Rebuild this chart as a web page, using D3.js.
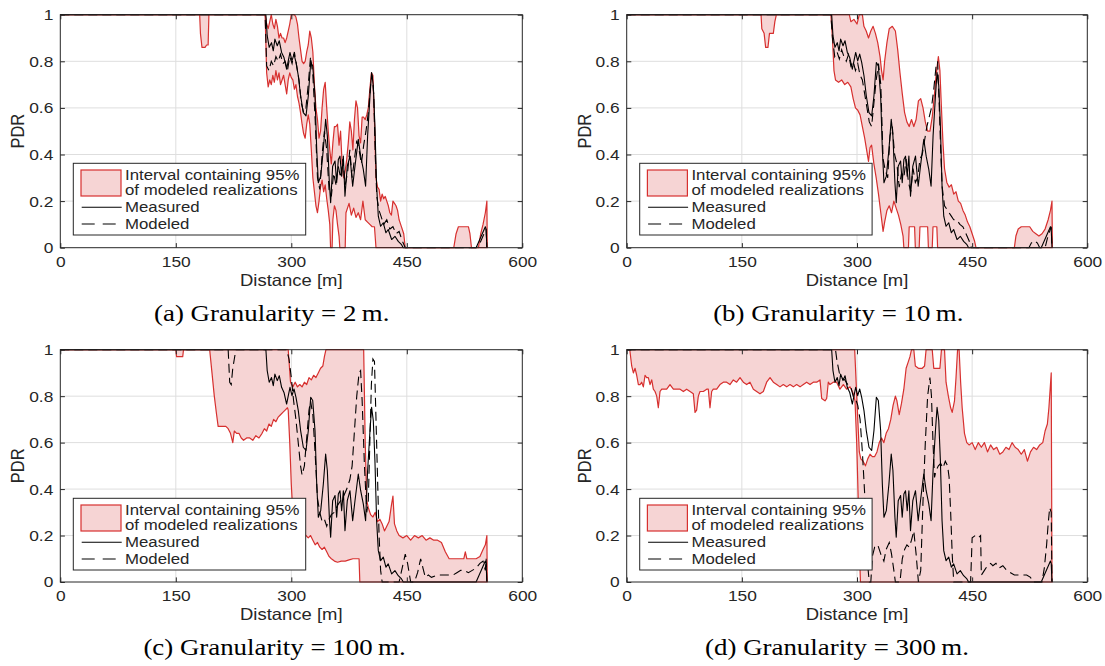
<!DOCTYPE html>
<html><head><meta charset="utf-8">
<script src="https://cdn.jsdelivr.net/npm/d3@7"></script>
<style>body{margin:0;background:#fff}svg{display:block}</style>
</head><body>
<svg id="chart" width="1105" height="666"></svg>
<script>
// ---------- data ----------
const xTicks = [0, 150, 300, 450, 600];
const yTicks = [0, 0.2, 0.4, 0.6, 0.8, 1];
const yTickLabels = ["0", "0.2", "0.4", "0.6", "0.8", "1"];
const xAxisTitle = "Distance [m]";
const yAxisTitle = "PDR";
const legendLabels = ["Interval containing 95%", "of modeled realizations", "Measured", "Modeled"];
const captions = ["(a) Granularity = 2\u2009m.", "(b) Granularity = 10\u2009m.", "(c) Granularity = 100\u2009m.", "(d) Granularity = 300\u2009m."];

const measured = [[0,1],[266,1],[267,1],[268.7,0.91],[271.3,0.86],[274.3,0.88],[276.6,0.845],[278.7,0.895],[281.8,0.867],[284.4,0.888],[287.4,0.838],[290.5,0.816],[293.9,0.766],[296.5,0.809],[298.3,0.838],[300.9,0.802],[303.5,0.831],[306.1,0.795],[309.1,0.738],[312.1,0.652],[315.6,0.58],[319.1,0.566],[322.1,0.652],[325.2,0.795],[327.8,0.781],[330.8,0.652],[333,0.422],[335.1,0.279],[338.2,0.307],[341.6,0.422],[344.6,0.551],[346.8,0.48],[349.4,0.279],[351.1,0.193],[353.7,0.35],[356.8,0.372],[358.9,0.279],[361.1,0.379],[363.2,0.393],[365.4,0.307],[367.6,0.393],[369.7,0.221],[372.7,0.35],[376.2,0.393],[379.7,0.264],[382.7,0.35],[387,0.465],[390.1,0.393],[393.5,0.336],[396.5,0.264],[399.1,0.479],[402.2,0.652],[404.3,0.752],[406.5,0.695],[408.6,0.523],[410.8,0.264],[413,0.135],[416,0.092],[419.5,0.107],[422.9,0.064],[425.9,0.078],[430.3,0.035],[434.6,0.049],[438.9,0.027],[443.2,0.013],[445.4,0],[540,0],[544,0.03],[548,0.06],[552,0.09],[553,0.08],[554,0]];

// (a) granularity 2 m
const modeledA = [[0,1],[266,1],[268,0.78],[271,0.76],[274,0.8],[277,0.78],[280,0.82],[283,0.8],[286,0.83],[289,0.79],[292,0.8],[295,0.76],[298,0.82],[301,0.79],[304,0.84],[307,0.78],[310,0.72],[313,0.62],[316,0.58],[319,0.6],[322,0.7],[325,0.82],[328,0.74],[331,0.55],[334,0.3],[337,0.25],[340,0.4],[343,0.5],[346,0.42],[349,0.25],[352,0.22],[355,0.32],[358,0.27],[361,0.35],[364,0.3],[367,0.38],[370,0.27],[373,0.32],[376,0.42],[379,0.3],[382,0.38],[385,0.46],[388,0.42],[391,0.36],[394,0.44],[397,0.5],[400,0.58],[403,0.7],[405,0.74],[407,0.66],[409,0.4],[411,0.22],[414,0.16],[417,0.13],[420,0.1],[424,0.12],[428,0.08],[432,0.09],[436,0.06],[440,0.07],[444,0.03],[448,0],[540,0],[545,0.02],[549,0.05],[553,0.08],[554,0]];
const lowerA = [[0,1],[181,1],[182,0.92],[184,0.86],[186,0.86],[188,0.86],[190,0.87],[192,0.87],[193,1],[266,1],[268,0.75],[270,0.69],[272,0.72],[274,0.7],[276,0.74],[278,0.71],[280,0.76],[282,0.72],[284,0.75],[286,0.7],[288,0.72],[290,0.74],[292,0.7],[294,0.66],[296,0.72],[298,0.75],[300,0.73],[302,0.72],[304,0.68],[306,0.7],[308,0.65],[310,0.62],[312,0.58],[314,0.53],[316,0.49],[318,0.47],[320,0.53],[322,0.57],[324,0.53],[326,0.42],[328,0.3],[330,0.24],[332,0.18],[334,0.15],[336,0.2],[338,0.26],[340,0.29],[342,0.24],[344,0.27],[346,0.21],[348,0.16],[350,0.1],[351,0],[353,0],[354,0.12],[356,0.18],[358,0.16],[360,0.1],[362,0.05],[363,0],[370,0],[371,0.15],[375,0.19],[378,0.14],[381,0.17],[384,0.13],[387,0.15],[390,0.12],[393,0.2],[396,0.12],[399,0.11],[402,0.1],[405,0.09],[408,0.09],[410,0],[555,0]];
const upperA = [[0,1],[266,1],[268,0.96],[270,0.94],[272,0.97],[274,1],[276,0.96],[278,0.94],[280,0.98],[282,0.95],[284,0.9],[286,0.92],[288,0.9],[290,0.9],[292,0.88],[294,0.9],[296,0.93],[298,0.96],[300,1],[304,1],[306,0.99],[308,0.96],[310,0.9],[312,0.85],[314,0.8],[316,0.79],[318,0.8],[320,0.84],[322,0.87],[324,0.93],[326,0.9],[328,0.84],[330,0.7],[332,0.6],[334,0.55],[336,0.47],[338,0.5],[340,0.6],[342,0.68],[344,0.71],[346,0.6],[348,0.5],[350,0.42],[352,0.36],[354,0.45],[356,0.52],[358,0.52],[360,0.53],[362,0.44],[364,0.5],[366,0.36],[368,0.3],[370,0.33],[372,0.38],[374,0.45],[376,0.54],[378,0.5],[380,0.42],[382,0.55],[384,0.63],[386,0.6],[388,0.48],[390,0.45],[392,0.56],[394,0.56],[396,0.55],[398,0.57],[400,0.6],[402,0.68],[404,0.75],[406,0.74],[408,0.55],[410,0.3],[412,0.26],[414,0.25],[416,0.2],[418,0.23],[420,0.21],[422,0.22],[424,0.2],[426,0.18],[428,0.15],[430,0.14],[432,0.2],[434,0.19],[436,0.18],[438,0.16],[440,0.12],[442,0.1],[444,0.08],[446,0.06],[448,0],[511,0],[514,0.06],[517,0.09],[520,0.09],[524,0.09],[530,0.09],[532,0.06],[534,0],[543,0],[546,0.06],[549,0.1],[552,0.15],[554,0.2],[554.5,0]];

// (b) granularity 10 m
const modeledB = [[0,1],[266,1],[268,0.9],[271,0.82],[274,0.84],[277,0.81],[280,0.85],[283,0.82],[286,0.8],[289,0.83],[292,0.78],[295,0.8],[298,0.76],[301,0.79],[304,0.74],[307,0.72],[310,0.66],[313,0.6],[316,0.54],[319,0.52],[322,0.62],[325,0.72],[328,0.79],[331,0.7],[334,0.38],[337,0.33],[340,0.3],[343,0.48],[346,0.52],[349,0.4],[352,0.36],[355,0.26],[358,0.32],[361,0.3],[364,0.38],[367,0.28],[370,0.24],[373,0.34],[376,0.28],[379,0.3],[382,0.38],[385,0.4],[388,0.46],[391,0.52],[394,0.56],[397,0.6],[400,0.68],[403,0.78],[405,0.8],[407,0.62],[409,0.42],[411,0.26],[414,0.18],[418,0.16],[422,0.14],[426,0.12],[430,0.12],[434,0.1],[438,0.09],[442,0.06],[446,0.03],[449,0],[524,0],[527,0.02],[531,0.03],[535,0.02],[538,0],[545,0],[548,0.04],[551,0.07],[553,0.09],[554,0]];
const lowerB = [[0,1],[175,1],[176,0.94],[179,0.92],[181,0.86],[184,0.86],[186,0.92],[191,0.92],[193,0.97],[195,1],[266,1],[268,0.9],[270,0.76],[272,0.72],[276,0.71],[280,0.72],[284,0.7],[288,0.71],[292,0.69],[295,0.64],[298,0.6],[301,0.59],[304,0.57],[307,0.52],[310,0.47],[313,0.41],[315,0.37],[317,0.43],[319,0.44],[322,0.36],[325,0.3],[328,0.23],[331,0.15],[334,0.07],[336,0.11],[339,0.16],[342,0.18],[345,0.15],[348,0.2],[351,0.17],[354,0.14],[357,0.1],[360,0.05],[361,0],[367,0],[368,0.09],[375,0.09],[376,0],[381,0],[382,0.09],[392,0.09],[393,0],[398,0],[399,0.09],[404,0.09],[405,0],[555,0]];
const upperB = [[0,1],[266,1],[290,1],[292,0.97],[296,0.98],[300,0.96],[303,1],[307,1],[309,0.95],[312,0.93],[315,0.9],[318,0.93],[321,0.95],[324,0.92],[327,0.88],[330,0.82],[332,0.76],[334,0.72],[336,0.8],[339,0.88],[342,0.94],[346,0.95],[350,0.93],[353,0.85],[356,0.75],[359,0.66],[362,0.58],[365,0.54],[368,0.52],[371,0.55],[374,0.52],[377,0.55],[380,0.63],[383,0.64],[386,0.6],[389,0.54],[392,0.5],[395,0.5],[398,0.56],[401,0.66],[403,0.74],[406,0.82],[408,0.76],[410,0.6],[412,0.45],[414,0.34],[417,0.28],[420,0.26],[423,0.27],[426,0.23],[429,0.24],[432,0.2],[435,0.19],[438,0.16],[441,0.14],[444,0.11],[447,0.09],[450,0.06],[453,0.03],[455,0],[505,0],[507,0.05],[510,0.08],[514,0.09],[525,0.09],[529,0.07],[533,0.06],[537,0.05],[541,0.06],[545,0.08],[549,0.12],[552,0.16],[554,0.2],[554.5,0]];

// (c) granularity 100 m
const modeledC = [[0,1],[218,1],[220,0.86],[222,0.85],[224,0.92],[226,0.96],[228,1],[294,1],[297,0.96],[300,0.88],[303,0.78],[306,0.7],[309,0.6],[312,0.5],[314,0.46],[317,0.5],[320,0.62],[323,0.74],[325,0.78],[328,0.72],[331,0.55],[334,0.36],[337,0.3],[340,0.26],[343,0.27],[346,0.24],[349,0.27],[352,0.29],[356,0.3],[360,0.33],[364,0.35],[368,0.37],[372,0.4],[376,0.44],[379,0.5],[382,0.65],[385,0.8],[388,0.9],[390,0.91],[392,0.78],[395,0.5],[398,0.3],[400,0.35],[402,0.6],[404,0.85],[406,0.96],[408,0.95],[410,0.7],[412,0.45],[414,0.2],[416,0.05],[418,0],[440,0],[444,0.06],[448,0.12],[451,0.08],[455,0],[460,0],[464,0.04],[468,0.1],[471,0.06],[474,0.02],[478,0.03],[482,0.02],[490,0.03],[500,0.03],[510,0.03],[515,0.04],[520,0.05],[525,0.05],[530,0.04],[535,0.05],[540,0.06],[545,0.08],[549,0.09],[552,0.05],[553,0.1],[554,0]];
const lowerC = [[0,1],[150,1],[151,0.97],[159,0.97],[160,1],[194,1],[197,0.9],[200,0.8],[203,0.72],[205,0.67],[210,0.67],[215,0.67],[218,0.66],[221,0.64],[224,0.6],[226,0.65],[229,0.64],[232,0.64],[235,0.62],[238,0.61],[242,0.62],[246,0.62],[250,0.61],[254,0.63],[258,0.62],[262,0.64],[265,0.66],[268,0.65],[271,0.68],[274,0.67],[277,0.7],[280,0.69],[283,0.71],[286,0.72],[289,0.73],[292,0.74],[295,0.75],[296,0.74],[298,0.6],[300,0.42],[302,0.3],[304,0.26],[307,0.25],[310,0.22],[313,0.23],[316,0.21],[319,0.2],[322,0.19],[325,0.2],[328,0.18],[331,0.16],[334,0.17],[337,0.15],[340,0.14],[343,0.15],[346,0.13],[349,0.11],[352,0.1],[356,0.09],[360,0.085],[365,0.09],[370,0.09],[375,0.095],[380,0.1],[385,0.1],[388,0.1],[389,0],[555,0]];
const upperC = [[0,1],[296,1],[299,0.86],[302,0.84],[305,0.86],[308,0.84],[311,0.85],[314,0.84],[317,0.86],[320,0.85],[323,0.88],[326,0.87],[329,0.89],[332,0.88],[335,0.9],[338,0.92],[341,0.93],[343,0.97],[345,1],[394,1],[396,0.6],[398,0.35],[400,0.32],[403,0.29],[406,0.28],[409,0.3],[412,0.26],[415,0.27],[418,0.25],[421,0.22],[424,0.24],[427,0.26],[430,0.33],[432,0.37],[434,0.25],[437,0.22],[440,0.2],[445,0.19],[450,0.2],[455,0.18],[460,0.2],[465,0.19],[470,0.2],[475,0.18],[480,0.19],[485,0.18],[490,0.18],[495,0.17],[500,0.13],[505,0.1],[510,0.1],[520,0.1],[524,0.1],[526,0.13],[528,0.1],[535,0.1],[540,0.1],[545,0.11],[549,0.14],[552,0.16],[554,0.2],[554.5,0]];

// (d) granularity 300 m
const modeledD = [[0,1],[272,1],[274,0.95],[277,0.9],[280,0.88],[284,0.87],[288,0.85],[292,0.84],[295,0.8],[298,0.79],[301,0.76],[304,0.7],[307,0.56],[310,0.38],[312,0.2],[314,0.07],[316,0],[318,0],[320,0.11],[323,0.15],[327,0.16],[331,0.12],[335,0.09],[338,0.14],[342,0.17],[345,0.12],[348,0.05],[350,0],[356,0],[359,0.1],[362,0.14],[365,0.16],[368,0.15],[371,0.18],[374,0.22],[377,0.12],[380,0],[383,0.05],[386,0.35],[389,0.6],[392,0.8],[395,0.88],[397,0.8],[399,0.6],[401,0.45],[403,0.48],[406,0.5],[409,0.51],[412,0.49],[415,0.52],[418,0.5],[420,0.45],[422,0.3],[424,0.12],[426,0],[448,0],[450,0.19],[454,0.2],[458,0.19],[461,0.2],[462,0.03],[466,0.05],[470,0.07],[474,0.08],[477,0.07],[481,0.08],[485,0.06],[490,0.07],[495,0.05],[500,0.04],[505,0.03],[510,0.03],[516,0.03],[521,0.03],[526,0.02],[529,0],[541,0],[544,0.06],[547,0.16],[549,0.25],[551,0.32],[553,0.3],[554,0]];
const lowerD = [[0,1],[4,1],[6.5,0.93],[8.7,0.9],[10.9,0.92],[13,0.89],[15.2,0.85],[17.4,0.85],[19.5,0.86],[21.7,0.84],[23.9,0.89],[26,0.88],[28.2,0.88],[30.4,0.85],[32.6,0.87],[34.7,0.83],[36.9,0.82],[39.1,0.8],[41.2,0.75],[43.4,0.82],[45.6,0.83],[47.8,0.83],[52.1,0.83],[56.4,0.85],[60.8,0.83],[65.1,0.83],[69.5,0.83],[73.8,0.82],[78.1,0.83],[82.5,0.82],[86.8,0.81],[89,0.73],[91.1,0.74],[93.3,0.8],[95.5,0.82],[99.8,0.82],[104.2,0.83],[106.3,0.83],[108.5,0.75],[110.7,0.82],[112.8,0.83],[117.2,0.83],[121.5,0.85],[125.9,0.86],[130.2,0.86],[134.5,0.85],[138.9,0.87],[143.2,0.86],[147.6,0.88],[151.9,0.86],[156.3,0.85],[160.6,0.86],[165,0.83],[169.3,0.82],[173.6,0.81],[178,0.82],[182.3,0.86],[186.7,0.88],[191,0.86],[195.4,0.85],[199.7,0.84],[204,0.85],[208.4,0.84],[212.7,0.85],[217.1,0.84],[221.4,0.85],[225.8,0.84],[230.1,0.85],[234.4,0.86],[238.8,0.85],[243.1,0.86],[247.5,0.86],[251.8,0.87],[254,0.79],[258.3,0.78],[260.5,0.79],[262.6,0.86],[264.8,0.85],[269.1,0.86],[273.5,0.86],[277.8,0.83],[282.2,0.85],[286.5,0.83],[290.9,0.84],[295.2,0.81],[297.4,0.78],[299.6,0.6],[301.7,0.34],[303.5,0.1],[304.5,0],[555,0]];
const upperD = [[0,1],[297,1],[299,0.85],[301,0.7],[303,0.56],[305,0.53],[308,0.52],[311,0.5],[314,0.53],[317,0.55],[320,0.54],[323,0.54],[326,0.56],[329,0.6],[332,0.62],[335,0.6],[338,0.64],[341,0.66],[344,0.7],[347,0.76],[350,0.8],[352,0.78],[355,0.72],[358,0.77],[361,0.83],[364,0.92],[367,0.95],[369,0.97],[371,1],[374,1],[376,0.93],[380,0.92],[385,0.92],[388,0.93],[390,1],[398,1],[400,0.92],[408,0.92],[410,1],[414,1],[416,0.86],[419,0.8],[422,0.75],[424,0.73],[427,0.78],[429,0.88],[431,1],[433,1],[435,0.86],[437,0.75],[440,0.64],[443,0.6],[446,0.59],[450,0.6],[454,0.57],[458,0.6],[462,0.58],[466,0.6],[470,0.56],[474,0.59],[478,0.57],[482,0.58],[486,0.55],[490,0.56],[494,0.58],[498,0.57],[502,0.6],[506,0.58],[510,0.57],[514,0.55],[518,0.57],[522,0.52],[526,0.56],[530,0.58],[534,0.57],[538,0.59],[542,0.6],[545,0.65],[548,0.68],[550,0.75],[553,0.9],[554,0]];

// ---------- layout ----------
const panels = [
  {x0:60.3, x1:522.3, y0:14.7, y1:247.7, lower:lowerA, upper:upperA, modeled:modeledA, cap:captions[0], capX:271.7, capY:320.7},
  {x0:626.7, x1:1087.3, y0:14.7, y1:247.7, lower:lowerB, upper:upperB, modeled:modeledB, cap:captions[1], capX:838.3, capY:320.7},
  {x0:60.3, x1:522.3, y0:349.7, y1:582, lower:lowerC, upper:upperC, modeled:modeledC, cap:captions[2], capX:274.5, capY:655},
  {x0:626.7, x1:1087.3, y0:349.7, y1:582, lower:lowerD, upper:upperD, modeled:modeledD, cap:captions[3], capX:837, capY:655}
];
const SX = 1.12;
const SANS = '"Liberation Sans", Arial, Helvetica, sans-serif';
const SERIF = '"Liberation Serif", "Times New Roman", serif';
const INK = '#262626';
const RED = '#d7302f';
const PINK = '#f6d4d4';
const svg = d3.select('#chart');

function label(g, x, y, s, size, anchor, rot, family) {
  const t = g.append('text')
    .attr('transform', `translate(${x},${y}) scale(${SX},1)` + (rot ? ` rotate(${rot})` : ''))
    .attr('text-anchor', anchor || 'start')
    .attr('font-family', family || SANS)
    .attr('font-size', size)
    .attr('fill', INK)
    .text(s);
  return t;
}

panels.forEach((p, i) => {
  const g = svg.append('g');
  const x = d3.scaleLinear().domain([0, 600]).range([p.x0, p.x1]);
  const y = d3.scaleLinear().domain([0, 1]).range([p.y1, p.y0]);
  const clipId = 'clip' + i;
  g.append('clipPath').attr('id', clipId).append('rect')
    .attr('x', p.x0).attr('y', p.y0 - 1).attr('width', p.x1 - p.x0).attr('height', p.y1 - p.y0 + 2);

  // grid
  g.append('g').selectAll('line').data(xTicks.slice(1, -1)).join('line')
    .attr('x1', d => x(d)).attr('x2', d => x(d)).attr('y1', p.y0).attr('y2', p.y1)
    .attr('stroke', '#dedede').attr('stroke-width', 1);
  g.append('g').selectAll('line').data(yTicks.slice(1, -1)).join('line')
    .attr('y1', d => y(d)).attr('y2', d => y(d)).attr('x1', p.x0).attr('x2', p.x1)
    .attr('stroke', '#dedede').attr('stroke-width', 1);

  const line = d3.line().x(d => x(d[0])).y(d => y(d[1]));
  const plot = g.append('g').attr('clip-path', `url(#${clipId})`);
  // interval fill
  plot.append('path')
    .attr('d', line(p.upper.concat(p.lower.slice().reverse())) + 'Z')
    .attr('fill', PINK).attr('stroke', 'none');
  [p.lower, p.upper].forEach(s => plot.append('path').attr('d', line(s))
    .attr('fill', 'none').attr('stroke', RED).attr('stroke-width', 1.2).attr('stroke-linejoin', 'round'));
  plot.append('path').attr('d', line(measured))
    .attr('fill', 'none').attr('stroke', '#000').attr('stroke-width', 1.1).attr('stroke-linejoin', 'round');
  plot.append('path').attr('d', line(p.modeled))
    .attr('fill', 'none').attr('stroke', '#000').attr('stroke-width', 1.1).attr('stroke-dasharray', '9,5');

  // axes (ticks inward on all four sides)
  const ax = g.append('g').attr('transform', `translate(0,${p.y1})`)
    .call(d3.axisBottom(x).tickValues(xTicks).tickSizeInner(-4.6).tickSizeOuter(0).tickPadding(8).tickFormat(d3.format('d')));
  const ay = g.append('g').attr('transform', `translate(${p.x0},0)`)
    .call(d3.axisLeft(y).tickValues(yTicks).tickSizeInner(-4.6).tickSizeOuter(0).tickPadding(7).tickFormat((d, k) => yTickLabels[k]));
  const at = g.append('g').attr('transform', `translate(0,${p.y0})`)
    .call(d3.axisTop(x).tickValues(xTicks).tickSizeInner(-4.6).tickSizeOuter(0).tickFormat(''));
  const ar = g.append('g').attr('transform', `translate(${p.x1},0)`)
    .call(d3.axisRight(y).tickValues(yTicks).tickSizeInner(-4.6).tickSizeOuter(0).tickFormat(''));
  [ax, ay, at, ar].forEach(a => {
    a.select('.domain').remove();
    a.selectAll('line').attr('stroke', INK);
    a.selectAll('text').attr('fill', INK).attr('font-family', SANS).attr('font-size', 15.5);
  });
  ax.selectAll('text').attr('transform', `scale(${SX},1)`);
  ay.selectAll('text').each(function () {
    const t = d3.select(this);
    t.attr('transform', `translate(-7,0) scale(${SX},1) translate(7,0)`);
  });
  g.append('rect').attr('x', p.x0).attr('y', p.y0).attr('width', p.x1 - p.x0).attr('height', p.y1 - p.y0)
    .attr('fill', 'none').attr('stroke', INK).attr('stroke-width', 1);

  // axis titles
  label(g, (p.x0 + p.x1) / 2, p.y1 + 38.3, xAxisTitle, 16.5, 'middle');
  label(g, p.x0 - 36, (p.y0 + p.y1) / 2, yAxisTitle, 16.5, 'middle', -90);

  // legend
  const lg = g.append('g');
  const lx = p.x0 + 13, ly = p.y0 + 148.6;
  lg.append('rect').attr('x', lx).attr('y', ly).attr('width', 232.4).attr('height', 71.7)
    .attr('fill', '#fff').attr('stroke', INK).attr('stroke-width', 1);
  lg.append('rect').attr('x', p.x0 + 20.7).attr('y', p.y0 + 155.3).attr('width', 40).attr('height', 26)
    .attr('fill', PINK).attr('stroke', RED).attr('stroke-width', 1.2);
  lg.append('line').attr('x1', p.x0 + 21.4).attr('x2', p.x0 + 61.4).attr('y1', p.y0 + 192.6).attr('y2', p.y0 + 192.6)
    .attr('stroke', '#000').attr('stroke-width', 1.1);
  lg.append('line').attr('x1', p.x0 + 21.4).attr('x2', p.x0 + 61.4).attr('y1', p.y0 + 209.3).attr('y2', p.y0 + 209.3)
    .attr('stroke', '#000').attr('stroke-width', 1.1).attr('stroke-dasharray', '13,8');
  const tx = p.x0 + 64.7;
  [165.3, 180.3, 197.6, 214.6].forEach((dy, k) => label(lg, tx, p.y0 + dy, legendLabels[k], 15));

  // caption
  label(g, p.capX, p.capY, p.cap, 24, 'middle', 0, SERIF).attr('fill', '#000');
});
</script>
</body></html>
